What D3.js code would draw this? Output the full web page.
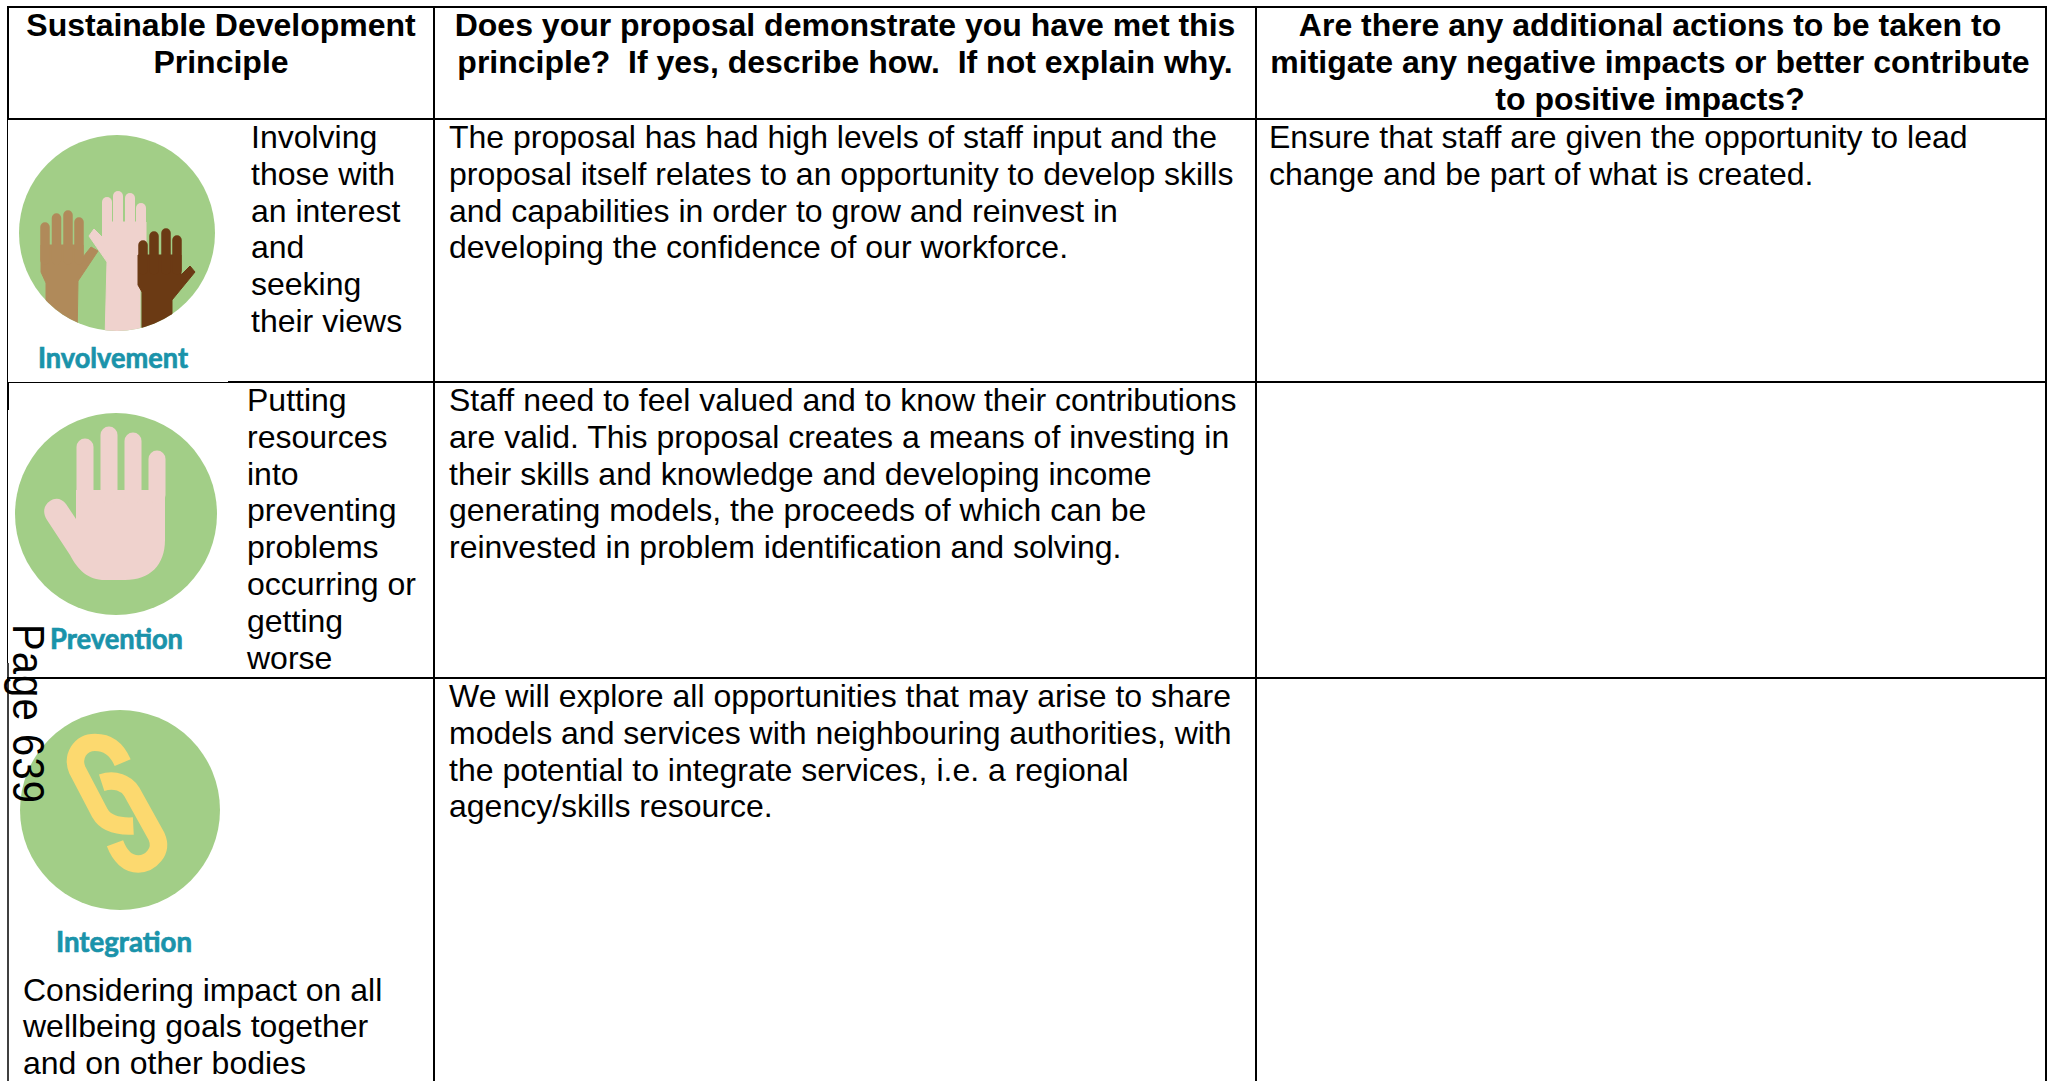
<!DOCTYPE html>
<html>
<head>
<meta charset="utf-8">
<script src="https://cdn.jsdelivr.net/npm/d3@7"></script>
<style>
    html, body { margin: 0; padding: 0; background: #fff; }
    svg { display: block; }
    text { font-family: "Liberation Sans", Arial, sans-serif; font-size: 32px; fill: #000; }
    .head { font-weight: bold; text-anchor: middle; }
    .badge { font-family: Lato, sans-serif; font-weight: 700; font-size: 28px; fill: #1a93aa; stroke: #1a93aa; stroke-width: 0.7px; }
</style>
</head>
<body>
<svg id="page" width="2056" height="1081"></svg>
<script>
// table content
let headers = [
    ["Sustainable Development", "Principle"],
    ["Does your proposal demonstrate you have met this", "principle?  If yes, describe how.  If not explain why."],
    ["Are there any additional actions to be taken to", "mitigate any negative impacts or better contribute", "to positive impacts?"]
];
let badges = ["Involvement", "Prevention", "Integration"];
let principleNotes = [
    ["Involving", "those with", "an interest", "and", "seeking", "their views"],
    ["Putting", "resources", "into", "preventing", "problems", "occurring or", "getting", "worse"],
    ["Considering impact on all", "wellbeing goals together", "and on other bodies"]
];
let proposalText = [
    ["The proposal has had high levels of staff input and the", "proposal itself relates to an opportunity to develop skills", "and capabilities in order to grow and reinvest in", "developing the confidence of our workforce."],
    ["Staff need to feel valued and to know their contributions", "are valid. This proposal creates a means of investing in", "their skills and knowledge and developing income", "generating models, the proceeds of which can be", "reinvested in problem identification and solving."],
    ["We will explore all opportunities that may arise to share", "models and services with neighbouring authorities, with", "the potential to integrate services, i.e. a regional", "agency/skills resource."]
];
let actionText = [
    ["Ensure that staff are given the opportunity to lead", "change and be part of what is created."],
    [],
    []
];
let pageLabel = "Page 639";

// layout
const lineGap = 36.8;
const colX = [8, 434, 1256, 2046];
const headCentre = [221, 845, 1650];
const headBase = 36;
const rowBase = [148, 411, 707];
const noteX = [251, 247, 23];
const noteBase = [148, 411, 1000.5];
const green = "#a2ce87", pink = "#efd2cd", tan = "#b08a5a", dark = "#6b3a14", gold = "#fcd96f";

let svg = d3.select("#page");

// grid lines
let grid = svg.append("g").attr("stroke", "#000");
let hLines = [
    {x1: 7, x2: 2047, y: 7, w: 2},
    {x1: 7, x2: 2047, y: 119, w: 2},
    {x1: 7, x2: 228, y: 382.5, w: 1},
    {x1: 228, x2: 2047, y: 382, w: 2},
    {x1: 7, x2: 2047, y: 678, w: 2}
];
let vLines = [
    {x: 8, y1: 6, y2: 120, w: 2},
    {x: 7.5, y1: 120, y2: 382, w: 1},
    {x: 8, y1: 382, y2: 410, w: 2},
    {x: 7.5, y1: 410, y2: 663, w: 1},
    {x: 8, y1: 663, y2: 1081, w: 1.5},
    {x: 434, y1: 6, y2: 1081, w: 2},
    {x: 1256, y1: 6, y2: 1081, w: 2},
    {x: 2046, y1: 6, y2: 1081, w: 2}
];
grid.selectAll(".h").data(hLines).enter().append("line")
    .attr("x1", d => d.x1).attr("x2", d => d.x2)
    .attr("y1", d => d.y).attr("y2", d => d.y)
    .attr("stroke-width", d => d.w);
grid.selectAll(".v").data(vLines).enter().append("line")
    .attr("x1", d => d.x).attr("x2", d => d.x)
    .attr("y1", d => d.y1).attr("y2", d => d.y2)
    .attr("stroke-width", d => d.w);

// writes a block of lines, one text element for each
function writeLines(parent, lines, x, y, cls) {
    parent.selectAll(null).data(lines).enter().append("text")
        .attr("class", cls || null)
        .attr("x", x)
        .attr("y", (d, i) => y + i * lineGap)
        .attr("xml:space", "preserve")
        .style("white-space", "pre")
        .text(d => d);
}

let textLayer = svg.append("g");
headers.forEach((lines, i) => writeLines(textLayer.append("g"), lines, headCentre[i], headBase, "head"));
principleNotes.forEach((lines, i) => writeLines(textLayer.append("g"), lines, noteX[i], noteBase[i]));
proposalText.forEach((lines, i) => writeLines(textLayer.append("g"), lines, colX[1] + 15, rowBase[i]));
actionText.forEach((lines, i) => writeLines(textLayer.append("g"), lines, colX[2] + 13, rowBase[i]));

// icons
function circleIcon(id, cx, cy, r) {
    svg.append("clipPath").attr("id", id).append("circle").attr("cx", cx).attr("cy", cy).attr("r", r);
    svg.append("circle").attr("cx", cx).attr("cy", cy).attr("r", r).attr("fill", green);
    return svg.append("g").attr("clip-path", "url(#" + id + ")");
}

function fingers(g, list, width, colour) {
    g.selectAll(null).data(list).enter().append("line")
        .attr("x1", d => d[0]).attr("x2", d => d[0])
        .attr("y1", d => d[1]).attr("y2", d => d[2])
        .attr("stroke", colour).attr("stroke-width", width).attr("stroke-linecap", "round");
}

// three raised hands
let hands = circleIcon("clipHands", 117, 233, 98);
hands.append("path").attr("fill", tan).attr("stroke", tan).attr("stroke-linejoin", "round")
    .attr("d", "M41 245L83 245L83 257L91 247L98 251L78 281L77 340L46 340L46 283L41 272Z");
fingers(hands, [[45, 227, 260], [56.5, 218, 260], [68, 215, 260], [79, 222, 260]], 9.5, tan);
hands.append("path").attr("fill", pink).attr("stroke", pink).attr("stroke-linejoin", "round")
    .attr("d", "M105 222L146 222L146 290L140 290L140 340L105 340L107 262L89 236L94 229L104 239Z");
fingers(hands, [[107, 202, 240], [118, 196, 240], [130, 198, 240], [141, 208, 240]], 10, pink);
hands.append("path").attr("fill", dark).attr("stroke", dark).attr("stroke-linejoin", "round")
    .attr("d", "M138 255L181 255L181 275L190 266L195 272L172 300L172 340L142 340L142 292L138 285Z");
fingers(hands, [[143, 245, 270], [154, 236, 270], [166, 233, 270], [177, 240, 270]], 9.5, dark);

// open hand
let stopHand = circleIcon("clipStop", 116, 514, 101);
stopHand.append("path").attr("fill", pink)
    .attr("d", "M76 490L165 490L165 540C165 565 150 580 125 580L105 580C88 580 78 570 70 555L47 520C42 512 44 505 50 501C56 497 62 499 66 504L76 519Z");
fingers(stopHand, [[85, 447, 495], [109, 435, 495], [133, 441, 495], [157, 459, 495]], 17, pink);

// chain, drawn in the units of a 3x crop
let chain = circleIcon("clipChain", 120, 810, 100).append("g")
    .attr("transform", "translate(0,680) scale(0.3333)")
    .attr("fill", "none").attr("stroke", gold).attr("stroke-width", 52);
chain.append("path").attr("d", "M368 248C350 205 320 187 285 187C240 187 215 230 232 270L300 400C318 432 360 440 400 438");
chain.append("path").attr("d", "M305 308C345 295 380 310 395 335L470 470C490 515 450 552 415 552C385 552 360 530 345 490");

// icon captions
let badgeAt = [[38, 368, 150], [50, 649, 133], [56, 952, 136]];
svg.selectAll(".badge").data(badges).enter().append("text")
    .attr("class", "badge")
    .attr("x", (d, i) => badgeAt[i][0])
    .attr("y", (d, i) => badgeAt[i][1])
    .attr("textLength", (d, i) => badgeAt[i][2])
    .attr("lengthAdjust", "spacingAndGlyphs")
    .text(d => d);

// stamp running down the page edge
svg.append("text")
    .attr("transform", "translate(13,624) rotate(90) scale(1,1.1)")
    .attr("textLength", 179)
    .style("font-size", "40px")
    .text(pageLabel);
</script>
</body>
</html>
